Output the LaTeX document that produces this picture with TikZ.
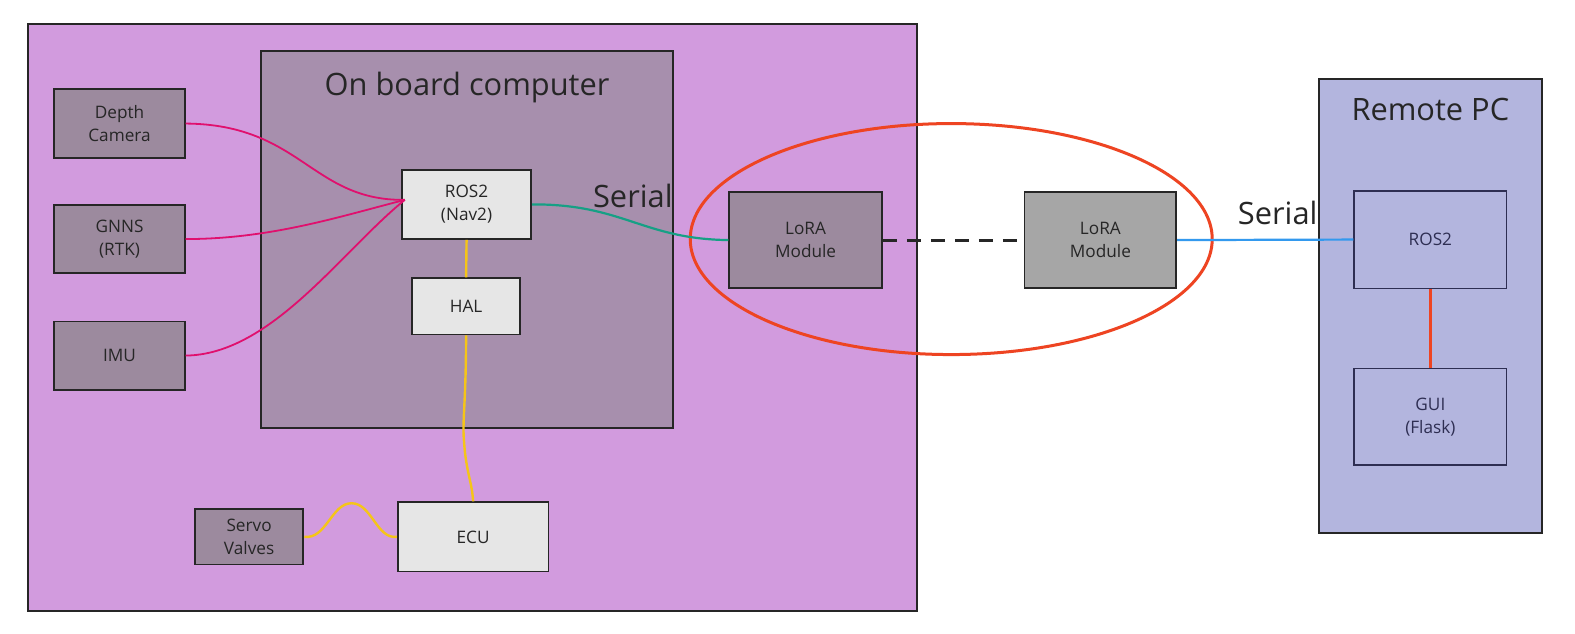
\documentclass[tikz,border=0pt]{standalone}
\usepackage{fontspec}
\setmainfont{Open Sans}
\usetikzlibrary{shapes.geometric}
\begin{document}
\begin{tikzpicture}[x=1.0045pt,y=-1.0045pt,
  box/.style={draw=black!85, line width=1.8pt, inner sep=0pt, align=center, font=\fontsize{17.2}{23.2}\selectfont, text=black!85},
  sensor/.style={box, fill=sensorc},
  whitebox/.style={box, fill=boxw},
  remote/.style={box, draw=navyc, text=navyc, fill=remotec, line width=1.4pt},
  big/.style={font=\fontsize{30.8}{36}\selectfont, text=black!85},
  pinkline/.style={draw=pinkc, line width=1.8pt},
  yel/.style={draw=yelc, line width=2.4pt},
]
\definecolor{outerc}{HTML}{D29BDE}
\definecolor{obc}{HTML}{A78FAD}
\definecolor{sensorc}{HTML}{9C8A9E}
\definecolor{boxw}{HTML}{E6E6E6}
\definecolor{loragray}{HTML}{A6A6A6}
\definecolor{remotec}{HTML}{B3B5DE}
\definecolor{navyc}{HTML}{2E2E52}
\definecolor{pinkc}{HTML}{E0106E}
\definecolor{tealc}{HTML}{16A085}
\definecolor{bluec}{HTML}{3399EE}
\definecolor{redc}{HTML}{EE4422}
\definecolor{yelc}{HTML}{F5C518}
\useasboundingbox (0,0) rectangle (1568,631);
\fill[fill=white] (0,0) rectangle (1568,631);
% outer board
\node[draw=black!85, line width=1.8pt, fill=outerc, minimum width=889, minimum height=587, inner sep=0pt] (outer) at (470.5,316) {};
\node[draw=black!85, line width=1.8pt, fill=obc, minimum width=412, minimum height=377, inner sep=0pt] (obc) at (465,238.5) {};
\node[big] (obctitle) at (465,87) {On board computer};
% sensors
\node[sensor, minimum width=130.5, minimum height=68.3] (cam) at (119,123) {Depth\\Camera};
\node[sensor, minimum width=130.5, minimum height=68.3] (gnss) at (119,238) {GNNS\\(RTK)};
\node[sensor, minimum width=130.5, minimum height=68.3] (imu) at (119,354) {IMU};
\node[sensor, minimum width=108.5, minimum height=55.2] (servo) at (248,534.5) {Servo\\Valves};
% onboard
\node[whitebox, minimum width=129.5, minimum height=69.3] (ros) at (464.5,203.5) {ROS2\\(Nav2)};
\node[whitebox, minimum width=108.5, minimum height=56.2] (hal) at (464,305) {HAL};
\node[whitebox, minimum width=150.6, minimum height=69.3] (ecu) at (471,534.5) {ECU};
% lora
\node[sensor, minimum width=152.7, minimum height=96.4] (loraA) at (802,239) {LoRA\\Module};
\node[box, fill=loragray, minimum width=151.7, minimum height=96.4] (loraB) at (1095.5,239) {LoRA\\Module};
% remote
\node[draw=black!85, line width=1.8pt, fill=remotec, minimum width=223, minimum height=454, inner sep=0pt] (rpc) at (1424,305) {};
\node[big] (rpctitle) at (1424,109) {Remote PC};
\node[remote, minimum width=152.7, minimum height=97.4] (ros2r) at (1424,238.5) {ROS2};
\node[remote, minimum width=152.7, minimum height=96.4] (gui) at (1424,415) {GUI\\(Flask)};
% labels
\node[big] (serA) at (630,195) {Serial};
\node[big] (serB) at (1272,212) {Serial};
% ellipse
\node[draw=redc, line width=3pt, ellipse, minimum width=522, minimum height=231, inner sep=0pt] (ell) at (947,238) {};
% connectors
\coordinate (rosin) at (403,199);
\draw[pinkline] (cam.east) .. controls (300,124) and (310,200) .. (rosin);
\draw[pinkline] (gnss.east) .. controls (270,238) and (340,215) .. (rosin);
\draw[pinkline] (imu.east) .. controls (270,353) and (340,250) .. (rosin);
\draw[draw=tealc, line width=2.2pt] (ros.east) .. controls (620,203) and (640,238) .. (loraA.west);
\draw[black!85, line width=3pt, dash pattern=on 14pt off 10pt] (loraA.east) -- (loraB.west);
\draw[draw=bluec, line width=2.2pt] (loraB.east) -- (ros2r.west);
\draw[draw=redc, line width=2.4pt] (ros2r.south) -- (gui.north);
\draw[yel] (ros.south) -- (hal.north);
\draw[yel] (hal.south) .. controls (464,400) and (460,420) .. (462,440) .. controls (464,470) and (470,480) .. (ecu.north);
\draw[yel] (servo.east) .. controls (325,537) and (330,501) .. (350,501) .. controls (370,501) and (375,537) .. (ecu.west);
\end{tikzpicture}
\end{document}
